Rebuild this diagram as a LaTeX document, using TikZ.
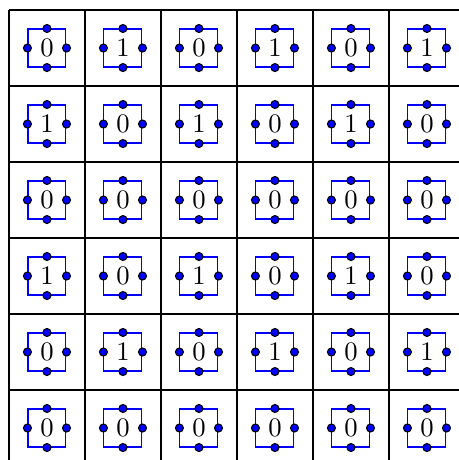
\documentclass[tikz,border=0pt]{standalone}
\usetikzlibrary{positioning}

\begin{document}
\begin{tikzpicture}[
  cellbox/.style={rectangle,draw=blue,thin,minimum size=0.5cm,inner sep=0pt},
  pindot/.style={circle,draw=black,fill=blue,thin,inner sep=0pt,minimum size=0.105cm},
  gridline/.style={thick,black}
]
  \useasboundingbox (-0.118,0.132) rectangle (5.921,-5.921);
  \draw[gridline] (0,-6) grid (6,0);

  \foreach \vals [count=\r] in {{0,1,0,1,0,1},{1,0,1,0,1,0},{0,0,0,0,0,0},
                                {1,0,1,0,1,0},{0,1,0,1,0,1},{0,0,0,0,0,0}}{
    \foreach \v [count=\c] in \vals {
      \node[cellbox] (cell-\r-\c) at (\c-0.5,0.5-\r) {\v};
      \foreach \a in {north,south,east,west}
        \node[pindot] (cell-\r-\c-\a) at (cell-\r-\c.\a) {};
    }
  }
\end{tikzpicture}
\end{document}
